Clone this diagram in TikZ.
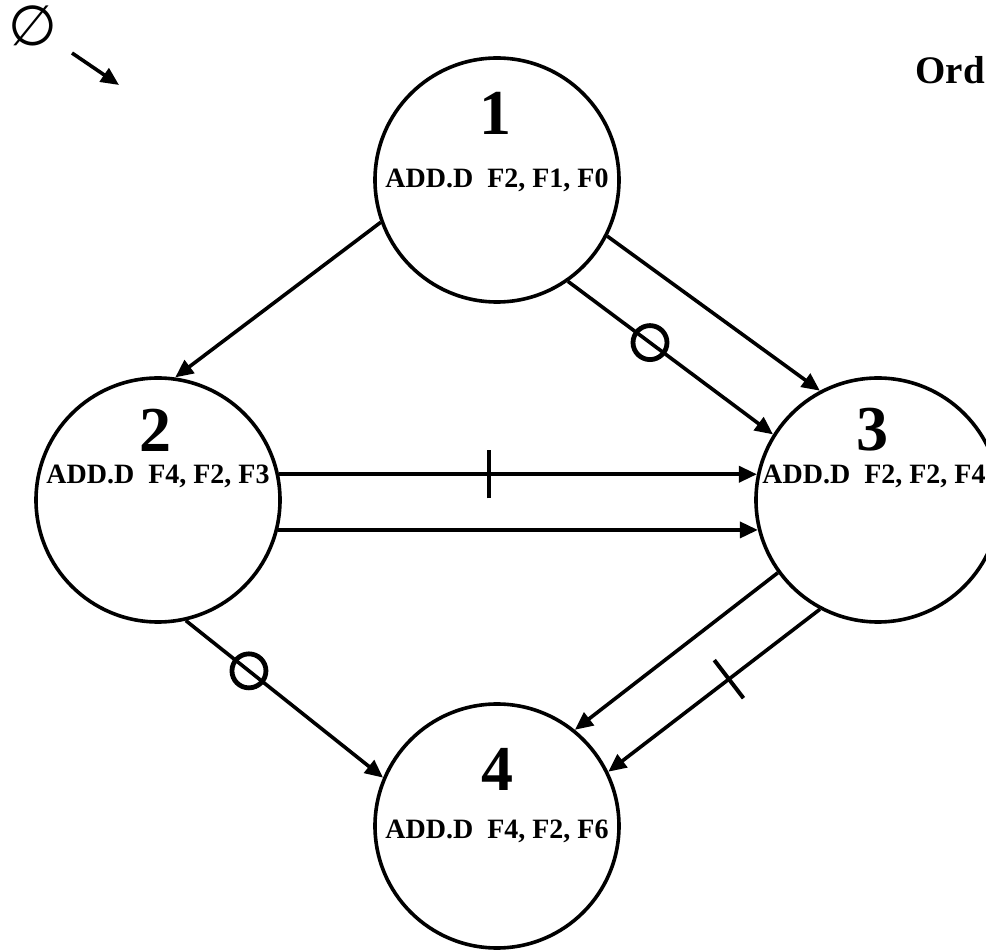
\documentclass[tikz,border=0pt]{standalone}
\usepackage{fontspec}
\setmainfont{Liberation Serif}
\newfontfamily\symfont{DejaVu Sans}
\usetikzlibrary{arrows.meta,decorations.markings}

\begin{document}
\begin{tikzpicture}[x=0.5pt,y=-0.5pt,
  state/.style={circle, draw=black, line width=1.8pt, minimum size=122pt, inner sep=0pt},
  num/.style={anchor=base, font=\fontsize{32}{32}\selectfont\bfseries, inner sep=0pt},
  instr/.style={anchor=base, font=\fontsize{14}{14}\selectfont\bfseries, inner sep=0pt},
  dep/.style={line width=1.8pt, -{Triangle[length=9pt,width=8pt]}},
  ringmark/.style={circle, draw=black, line width=2.4pt, minimum size=17pt, inner sep=0pt},
  barmark/.style={postaction={decorate}, decoration={markings, mark=at position #1 with {\draw[-, line width=2pt] (0,-12pt) -- (0,12pt);}}}]
\path [use as bounding box, clip] (0,0) rectangle (986,951);
\node [state] (n1) at (497,180) {};
\node [state] (n2) at (158,500) {};
\node [state] (n3) at (878,500) {};
\node [state] (n4) at (497,826) {};
\node [num] (d1) at (495,135) {1};
\node [num] (d2) at (155,452) {2};
\node [num] (d3) at (872,451) {3};
\node [num] (d4) at (497,791) {4};
\node [instr] (i1) at (497,188) {ADD.D~~F2, F1, F0};
\node [instr] (i2) at (158,484) {ADD.D~~F4, F2, F3};
\node [instr] (i3) at (874,484) {ADD.D~~F2, F2, F4};
\node [instr] (i4) at (497,839) {ADD.D~~F4, F2, F6};
\node [anchor=base west, font=\fontsize{19.5}{20}\selectfont\bfseries, inner sep=0pt] (ord) at (915,84) {Ord};
\node [font=\symfont\fontsize{28}{28}\selectfont, inner sep=0pt] (empty) at (33,26) {∅};
\coordinate (e0) at (72,53);
\coordinate (e1) at (119,85);
\draw [dep] (e0) -- (e1);
\draw [dep] (n1.200) -- (n2.82);
\draw [dep] (n1.333) -- (n3.118);
\draw [dep] (n1.305) -- node [ringmark, pos=0.4] (r1) {} (n3.148);
\draw [dep, barmark=0.44] (n2.12) -- (n3.168);
\draw [dep] (n2.-14) -- (n3.194);
\draw [dep] (n2.-77) -- node [ringmark, pos=0.32] (r2) {} (n4.157);
\draw [dep] (n3.216) -- (n4.51);
\draw [dep, barmark=0.43] (n3.242) -- (n4.26);
\end{tikzpicture}
\end{document}
